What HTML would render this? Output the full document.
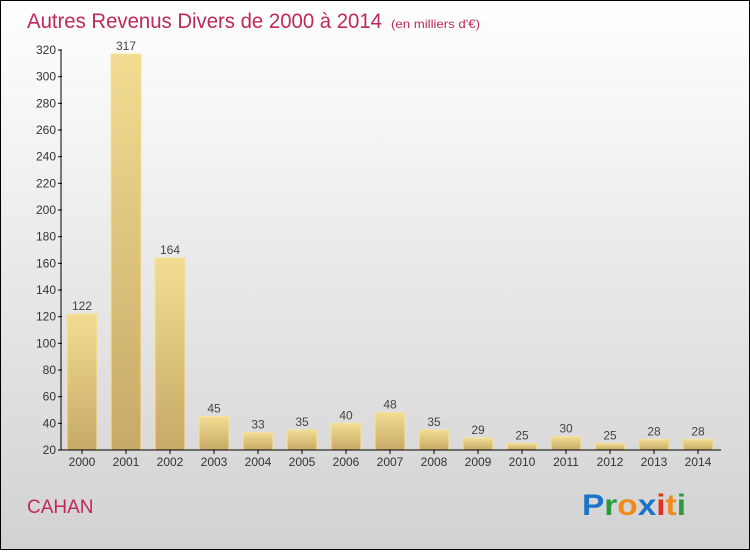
<!DOCTYPE html>
<html><head><meta charset="utf-8"><style>
html,body{margin:0;padding:0}
body{width:750px;height:550px;overflow:hidden;font-family:"Liberation Sans",sans-serif}
</style></head><body>
<svg id="chart" width="750" height="550" xmlns="http://www.w3.org/2000/svg">
<defs>
<linearGradient id="bg" x1="0" y1="0" x2="0" y2="1"><stop offset="0" stop-color="#ffffff"/><stop offset="1" stop-color="#d2d2d2"/></linearGradient>
<linearGradient id="bar" x1="0" y1="0" x2="0" y2="1"><stop offset="0" stop-color="#f3dc92"/><stop offset="1" stop-color="#c6aa66"/></linearGradient>
</defs>
<rect x="0.5" y="0.5" width="749" height="549" fill="url(#bg)" stroke="#000"/>
<text x="27" y="28" font-size="21" fill="#c0285a" textLength="355" lengthAdjust="spacingAndGlyphs">Autres Revenus Divers de 2000 à 2014</text>
<text x="391" y="28" font-size="12" fill="#c0285a" textLength="89" lengthAdjust="spacingAndGlyphs">(en milliers d'€)</text>
<g id="bars"></g>
<g id="axes"></g>
<text x="27" y="513" font-size="19" fill="#c0285a">CAHAN</text>
<g font-size="30" font-weight="bold">
<text x="582" y="515" textLength="104" lengthAdjust="spacingAndGlyphs"><tspan fill="#1a75c8">P</tspan><tspan fill="#2a9a3a">r</tspan><tspan fill="#f08a1a">o</tspan><tspan fill="#1a75c8">x</tspan><tspan fill="#e03020">i</tspan><tspan fill="#f08a1a">t</tspan><tspan fill="#2a9a3a">i</tspan></text>
</g>
</svg>
<script>
const categories=["2000","2001","2002","2003","2004","2005","2006","2007","2008","2009","2010","2011","2012","2013","2014"];
const values=[122,317,164,45,33,35,40,48,35,29,25,30,25,28,28];
const yTicks=[20,40,60,80,100,120,140,160,180,200,220,240,260,280,300,320];
const NS="http://www.w3.org/2000/svg";
const y=v=>450-(v-20)*400/300;
const x=i=>82+i*44;
function mk(tag,attrs,parent,text){const e=document.createElementNS(NS,tag);for(const k in attrs)e.setAttribute(k,attrs[k]);if(text!==undefined)e.textContent=text;parent.appendChild(e);return e;}
const bars=document.getElementById('bars'),axes=document.getElementById('axes');
values.forEach((v,i)=>{
 const r=mk('rect',{x:x(i)-15,y:y(v),width:30,height:450-y(v),fill:'url(#bar)',stroke:'#f5e3a0','stroke-width':1},bars);
 
 
 const t=mk('text',{x:x(i),y:y(v)-4,'text-anchor':'middle','font-size':12,fill:'#444'},bars,String(v));
 
 
 const c=mk('text',{x:x(i),y:466,'text-anchor':'middle','font-size':12,fill:'#333'},axes,categories[i]);
 
 
 mk('line',{x1:x(i),x2:x(i),y1:450,y2:454,stroke:'#000'},axes);
});
const ya=mk('line',{x1:61,x2:61,y1:50,y2:450,stroke:'#000'},axes);


const xa=mk('line',{x1:61,x2:721,y1:450,y2:450,stroke:'#000'},axes);


yTicks.forEach(v=>{
 mk('line',{x1:58,x2:62,y1:y(v),y2:y(v),stroke:'#000'},axes);
 const t=mk('text',{x:56,y:y(v)+4,'text-anchor':'end','font-size':12,fill:'#333'},axes,String(v));
 
 
});
</script>
</body></html>
